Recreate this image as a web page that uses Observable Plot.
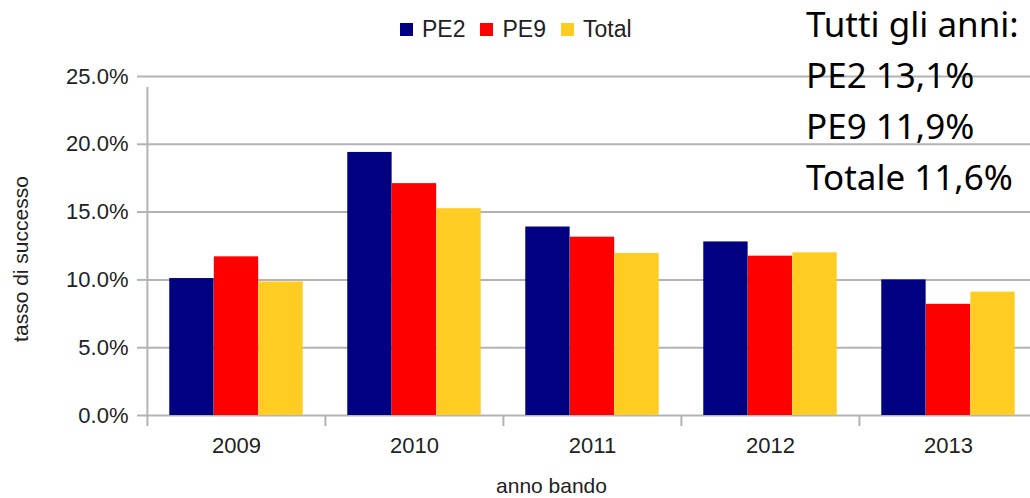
<!DOCTYPE html>
<html><head><meta charset="utf-8">
<script src="https://cdn.jsdelivr.net/npm/d3@7"></script>
<script src="https://cdn.jsdelivr.net/npm/@observablehq/plot@0.6"></script>
<style>
body{margin:0;background:#fff;}
#wrap{position:relative;width:1030px;height:498px;overflow:hidden;background:#fff;}
#legend{position:absolute;left:400px;top:13px;}
.lg-swatch{margin-right:15px !important;}
.lg-swatch > svg{margin-right:9px !important;}
#note{position:absolute;left:806px;top:-2px;font-family:"Noto Sans",Lato,sans-serif;font-weight:400;font-size:35px;line-height:51px;color:#000;white-space:pre;}
</style></head><body>
<div id="wrap"><div id="chart"></div><div id="legend"></div><div id="note"></div></div>
<script>
const years = ["2009","2010","2011","2012","2013"];
const series = ["PE2","PE9","Total"];
const pe2 = [10.1, 19.4, 13.9, 12.8, 10.0];
const pe9 = [11.7, 17.1, 13.15, 11.75, 8.2];
const total = [9.85, 15.25, 11.95, 12.0, 9.1];
const colors = ["#000080", "#ff0000", "#ffcc22"];
const yTicks = [0, 5, 10, 15, 20, 25];
const noteLines = ["Tutti gli anni:", "PE2 13,1%", "PE9 11,9%", "Totale 11,6%"];
const yLabel = "tasso di successo";
const xLabel = "anno bando";

const values = [pe2, pe9, total];
const data = [];
series.forEach((s, k) => years.forEach((y, i) => data.push({year: y, series: s, value: values[k][i]})));

const W = 1030, H = 498;
const left = 146, right = 1037;
const step = (right - left) / years.length;
const font = "'Liberation Sans', Arial, sans-serif";
const grid = "#b3b3b3";

const bars = series.map((s, k) => Plot.barY(data.filter(d => d.series === s), {
  x: "year", y: "value", fill: colors[k],
  insetLeft: step * (0.125 + 0.25 * k),
  insetRight: step * (1 - 0.125 - 0.25 * (k + 1))
}));

const chart = Plot.plot({
  width: W, height: H,
  marginLeft: left, marginRight: 0, marginTop: 76, marginBottom: 83,
  style: {fontFamily: font, fontSize: "22px", color: "#222", background: "#fff"},
  x: {type: "band", domain: years, range: [left, right], padding: 0},
  y: {domain: [0, 25], ticks: yTicks},
  marks: [
    Plot.gridY(yTicks, {stroke: grid, strokeOpacity: 1, strokeWidth: 2}),
    ...bars,
    Plot.ruleX(years, {x: d => d, dx: -step / 2, y1: 0, y2: 0, insetBottom: -11, stroke: grid, strokeWidth: 2}),
    Plot.ruleX(years.slice(0, 1), {x: d => d, dx: -step / 2, y1: 0, y2: 25, insetBottom: -11, stroke: grid, strokeWidth: 2}),
    Plot.axisY(yTicks, {tickSize: 9, tickPadding: 9, stroke: grid, strokeWidth: 2, tickFormat: d => d.toFixed(1) + "%", label: null, fill: "#222"}),
    Plot.axisX({tickSize: 0, tickPadding: 22, label: null, fill: "#222"}),
    Plot.text([xLabel], {text: d => d, frameAnchor: "bottom", textAnchor: "middle", lineAnchor: "middle", dx: -37, dy: 71, fontSize: 21, fill: "#222"}),
    Plot.text([yLabel], {text: d => d, frameAnchor: "left", textAnchor: "middle", lineAnchor: "middle", dx: -125, dy: 13, rotate: -90, fontSize: 21, fill: "#222"})
  ]
});
document.getElementById("chart").append(chart);

const legend = Plot.legend({
  color: {type: "ordinal", domain: series, range: colors},
  legend: "swatches", swatchWidth: 13, swatchHeight: 13, className: "lg",
  style: {fontFamily: font, fontSize: "23px", color: "#222"}
});
document.getElementById("legend").append(legend);

document.getElementById("note").textContent = noteLines.join("\n");
</script>
</body></html>
